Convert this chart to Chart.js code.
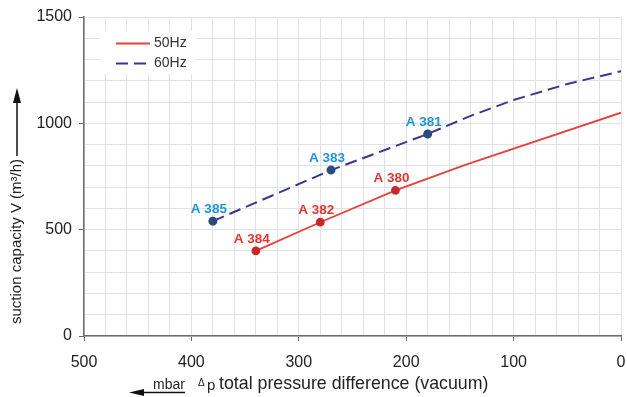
<!DOCTYPE html>
<html>
<head>
<meta charset="utf-8">
<script src="https://cdn.jsdelivr.net/npm/chart.js@4"></script>
<style>
  html, body { margin: 0; padding: 0; background: #fff; }
  #wrap { width: 627px; height: 397px; }
</style>
</head>
<body>
<div id="wrap"><canvas id="pumpChart" width="627" height="397"></canvas></div>
<script>
const FONT = "'Liberation Sans', Arial, sans-serif";

// 50 Hz curve
const pressure50 = [340, 280, 210, 145, 0];
const capacity50 = [400, 535, 685, 805, 1050];
const pumps50 = ['A 384', 'A 382', 'A 380', '', ''];

// 60 Hz curve
const pressure60 = [380, 270, 180, 140, 100, 50, 0];
const capacity60 = [540, 780, 950, 1035, 1110, 1185, 1245];
const pumps60 = ['A 385', 'A 383', 'A 381', '', '', '', ''];

const seriesNames = ['50Hz', '60Hz'];

function toPoints(xs, ys) {
    return xs.map((x, i) => ({ x: x, y: ys[i] }));
}

// labels above the marked pumps
const pumpLabels = {
    id: 'pumpLabels',
    afterDatasetsDraw(chart) {
        const ctx = chart.ctx;
        const names = [pumps50, pumps60];
        const colors = ['#e2372f', '#2194d6'];
        ctx.save();
        ctx.font = 'bold 13.5px ' + FONT;
        ctx.textAlign = 'center';
        ctx.textBaseline = 'alphabetic';
        chart.data.datasets.forEach((ds, i) => {
            const meta = chart.getDatasetMeta(i);
            meta.data.forEach((pt, j) => {
                if (!names[i][j]) return;
                ctx.fillStyle = colors[i];
                ctx.fillText(names[i][j], pt.x - 4, pt.y - 8);
            });
        });
        ctx.restore();
    }
};

// legend box, axis titles and arrows
const decor = {
    id: 'decor',
    afterDatasetsDraw(chart) {
        const ctx = chart.ctx;
        ctx.save();

        // legend
        ctx.fillStyle = '#fff';
        ctx.fillRect(100, 31, 96, 43);
        chart.data.datasets.forEach((ds, i) => {
            const y = 43.5 + i * 20;
            ctx.strokeStyle = ds.borderColor;
            ctx.lineWidth = ds.borderWidth;
            ctx.setLineDash(ds.borderDash || []);
            ctx.beginPath();
            ctx.moveTo(116, y);
            ctx.lineTo(150, y);
            ctx.stroke();
            ctx.setLineDash([]);
            ctx.fillStyle = '#333';
            ctx.font = '14px ' + FONT;
            ctx.textAlign = 'left';
            ctx.textBaseline = 'middle';
            ctx.fillText(seriesNames[i], 154, y);
        });

        // y title with arrow
        ctx.save();
        ctx.translate(17, 324);
        ctx.rotate(-Math.PI / 2);
        ctx.font = '15px ' + FONT;
        ctx.fillStyle = '#222';
        ctx.textAlign = 'left';
        ctx.textBaseline = 'middle';
        const yTitle = 'suction capacity V (m³/h)';
        ctx.fillText(yTitle, 0, 0);
        const w = ctx.measureText(yTitle).width;
        const tip = 324 - 88;
        ctx.strokeStyle = '#111';
        ctx.lineWidth = 1.5;
        ctx.beginPath();
        ctx.moveTo(w + 3, 0);
        ctx.lineTo(tip - 10, 0);
        ctx.stroke();
        ctx.fillStyle = '#111';
        ctx.beginPath();
        ctx.moveTo(tip, 0);
        ctx.lineTo(tip - 15, -4);
        ctx.lineTo(tip - 15, 4);
        ctx.closePath();
        ctx.fill();
        ctx.restore();

        // x title
        ctx.fillStyle = '#222';
        ctx.textBaseline = 'alphabetic';
        ctx.textAlign = 'left';
        ctx.font = '14px ' + FONT;
        ctx.fillText('mbar', 153, 389);
        ctx.strokeStyle = '#111';
        ctx.lineWidth = 1.5;
        ctx.beginPath();
        ctx.moveTo(140, 392.5);
        ctx.lineTo(185, 392.5);
        ctx.stroke();
        ctx.fillStyle = '#111';
        ctx.beginPath();
        ctx.moveTo(129, 392.5);
        ctx.lineTo(144, 389);
        ctx.lineTo(144, 396);
        ctx.closePath();
        ctx.fill();

        ctx.fillStyle = '#222';
        ctx.font = '10px ' + FONT;
        ctx.fillText('Δ', 198, 386);
        ctx.font = '15px ' + FONT;
        ctx.fillText('p', 207, 390);
        ctx.font = '17.8px ' + FONT;
        ctx.fillText('total pressure difference (vacuum)', 219, 389);

        ctx.restore();
    }
};

new Chart(document.getElementById('pumpChart'), {
    type: 'line',
    data: {
        datasets: [{
            label: seriesNames[0],
            data: toPoints(pressure50, capacity50),
            borderColor: '#e8413a',
            borderWidth: 1.8,
            pointRadius: ctx => pumps50[ctx.dataIndex] ? 3.5 : 0,
            pointBackgroundColor: '#c8282b',
            pointBorderColor: '#c8282b',
            tension: 0
        }, {
            label: seriesNames[1],
            data: toPoints(pressure60, capacity60),
            borderColor: '#3b3592',
            borderWidth: 2,
            borderDash: [12, 6],
            pointRadius: ctx => pumps60[ctx.dataIndex] ? 3.5 : 0,
            pointBackgroundColor: '#2b4a80',
            pointBorderColor: '#2b4a80',
            tension: 0
        }]
    },
    options: {
        responsive: false,
        animation: false,
        layout: { padding: { left: 0, top: 17, right: 2, bottom: 0 } },
        plugins: {
            legend: { display: false },
            tooltip: { enabled: false }
        },
        scales: {
            x: {
                type: 'linear',
                reverse: true,
                min: 0,
                max: 500,
                afterFit: scale => {
                    scale.height = 61;
                    scale.paddingLeft = 0;
                    scale.paddingRight = 0;
                },
                border: { color: '#6b6b6b', width: 1.5 },
                grid: {
                    color: '#dfe3e8',
                    lineWidth: 1,
                    tickLength: 5,
                    tickColor: ctx => ctx.tick && ctx.tick.value % 100 === 0 ? '#6b6b6b' : 'rgba(0,0,0,0)'
                },
                ticks: {
                    stepSize: 20,
                    autoSkip: false,
                    maxRotation: 0,
                    padding: 12,
                    color: '#222',
                    font: { family: FONT, size: 16 },
                    callback: v => v % 100 === 0 ? v : ''
                }
            },
            y: {
                min: 0,
                max: 1500,
                afterFit: scale => { scale.width = 84; },
                border: { color: '#6b6b6b', width: 1.5 },
                grid: {
                    color: '#dfe3e8',
                    lineWidth: 1,
                    tickLength: 5,
                    tickColor: ctx => ctx.tick && ctx.tick.value % 500 === 0 ? '#6b6b6b' : 'rgba(0,0,0,0)'
                },
                ticks: {
                    stepSize: 100,
                    autoSkip: false,
                    padding: 7,
                    color: '#222',
                    font: { family: FONT, size: 16 },
                    callback: v => v % 500 === 0 ? v : ''
                }
            }
        }
    },
    plugins: [pumpLabels, decor]
});
</script>
</body>
</html>
